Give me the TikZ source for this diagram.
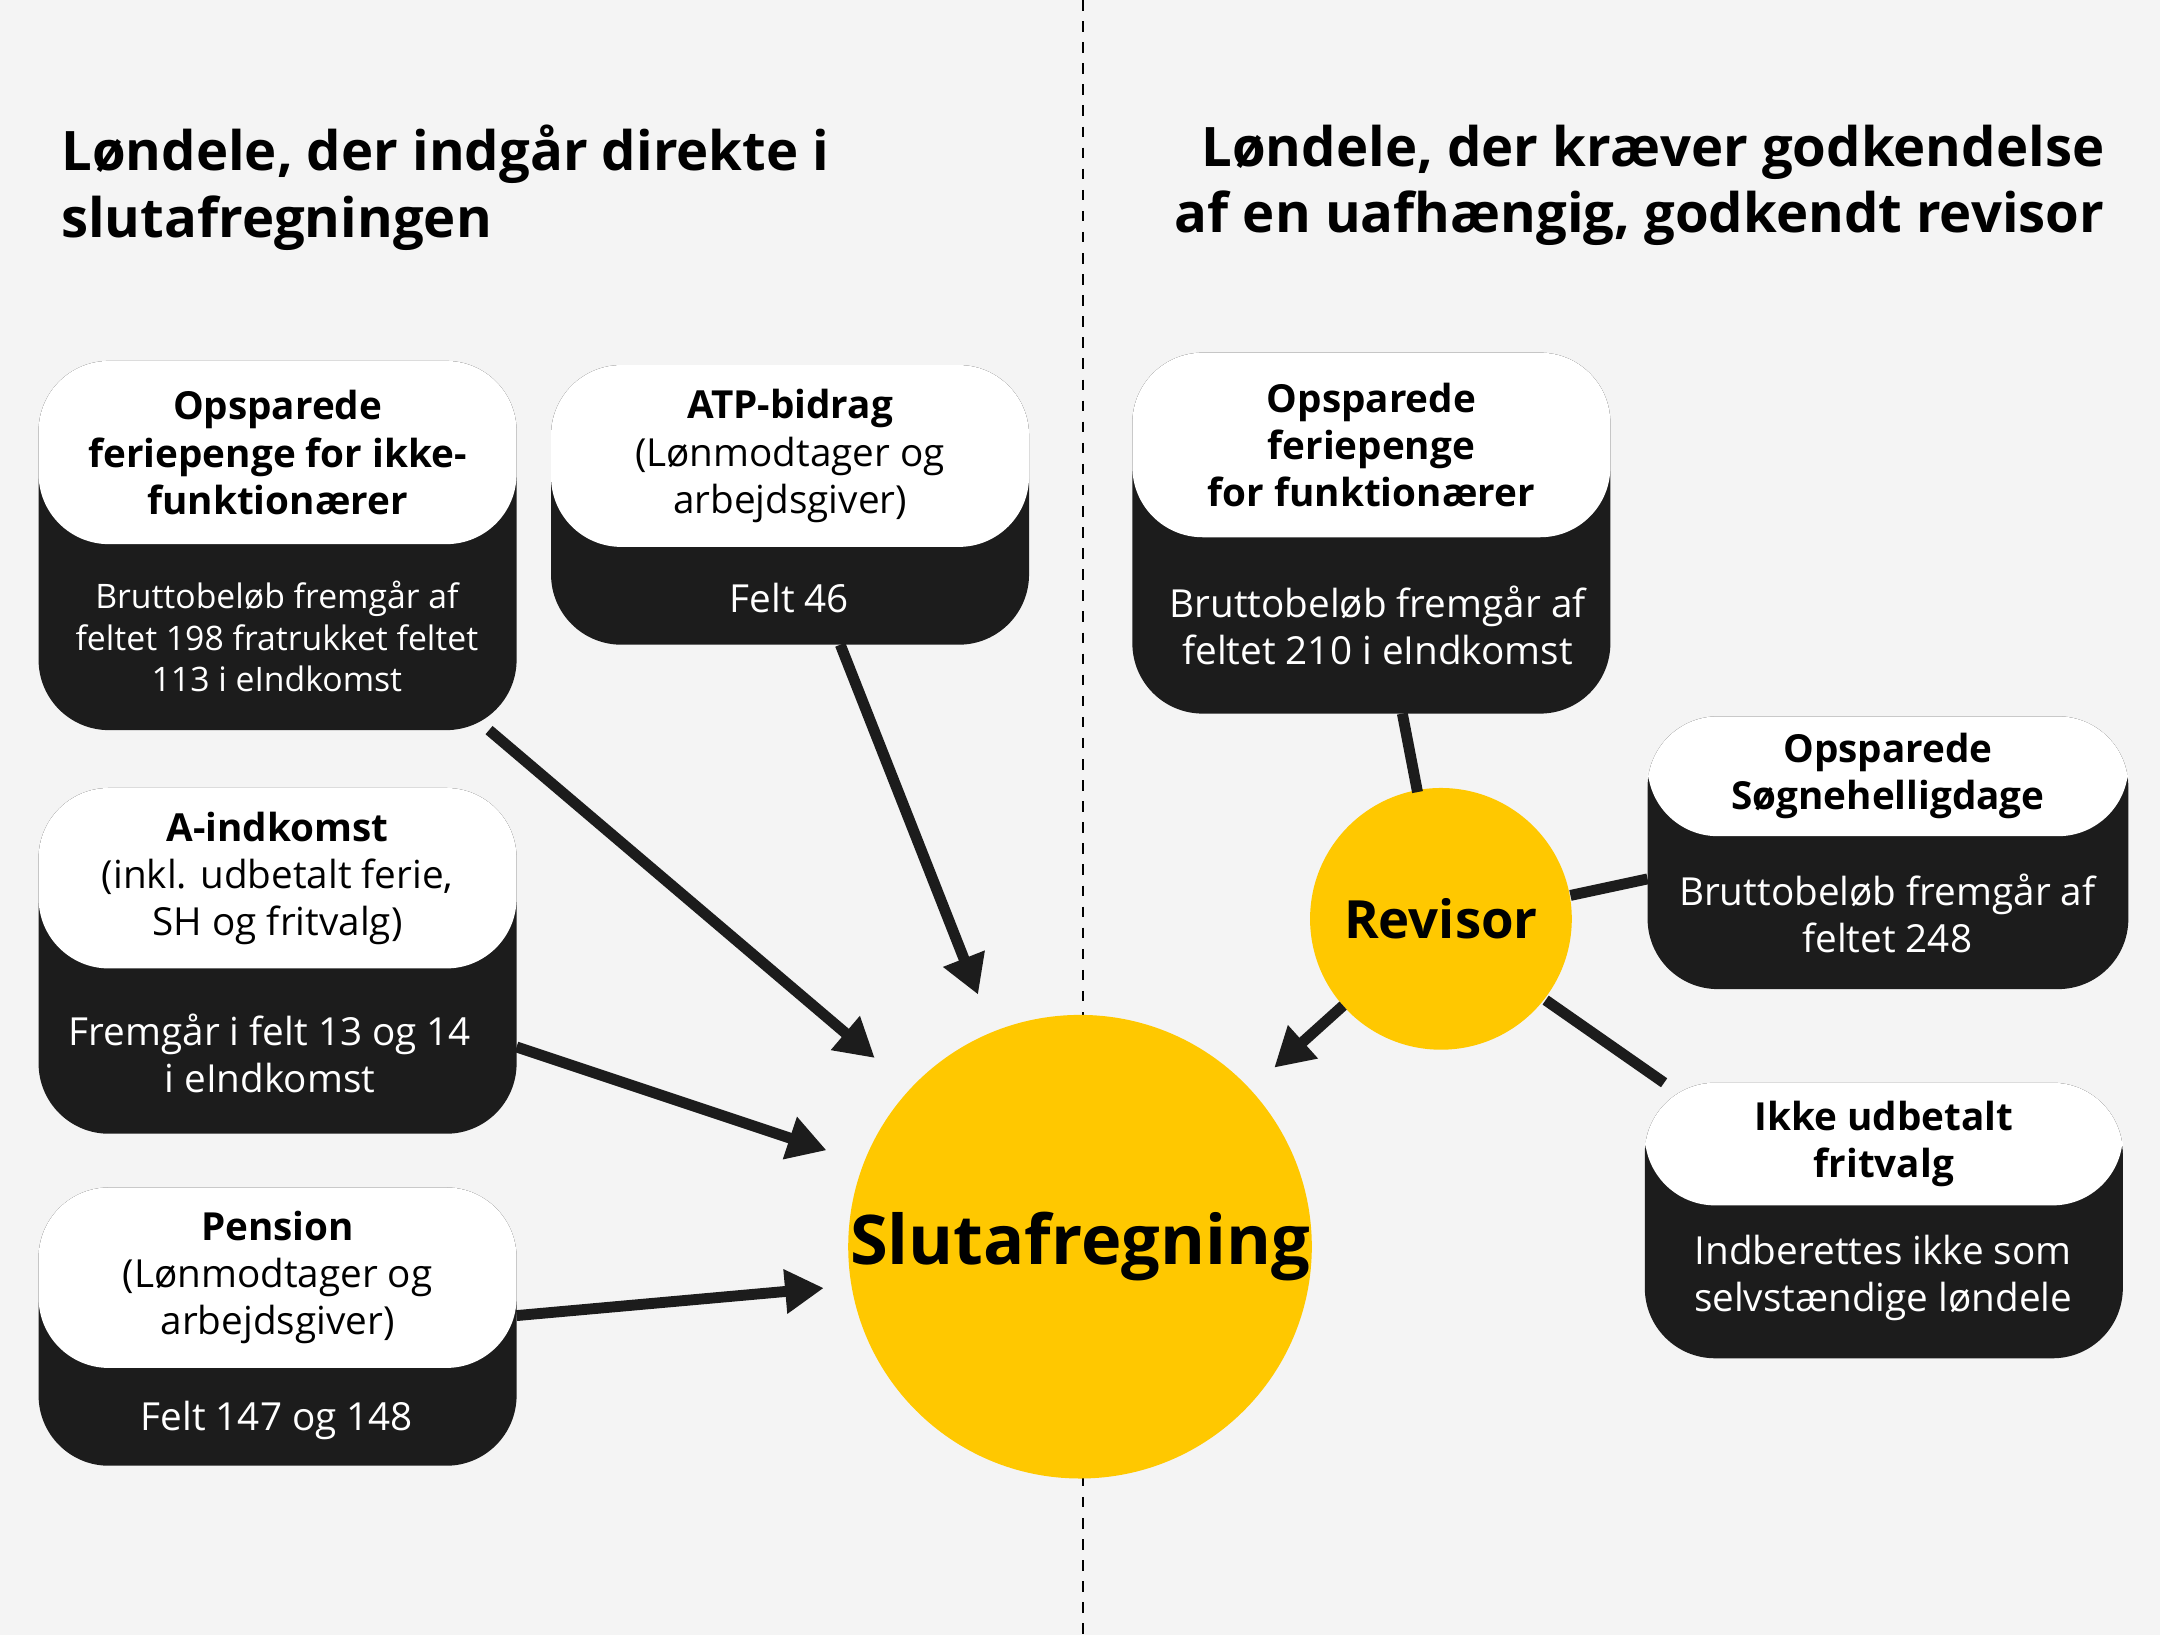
\documentclass[tikz,border=0pt]{standalone}
\usepackage{fontspec}
\setmainfont{Open Sans}
\usetikzlibrary{arrows.meta}
\definecolor{bg}{HTML}{F4F4F4}
\definecolor{yel}{HTML}{FFC800}
\definecolor{blk}{HTML}{1C1C1C}
\begin{document}
\begin{tikzpicture}[x=0.013776cm,y=-0.013776cm,
  ttl/.style={font=\fontsize{15.5}{19}\selectfont\bfseries,align=left,inner sep=0,anchor=north west},
  hd/.style={font=\fontsize{11}{13.4}\selectfont,align=center,inner sep=0,text=black},
  bd/.style={font=\fontsize{11}{13.4}\selectfont,align=center,inner sep=0,text=white},
  bds/.style={font=\fontsize{9.6}{11.8}\selectfont,align=center,inner sep=0,text=white},
  con/.style={line width=3.1pt,draw=blk},
  arr/.style={con,-{Triangle[length=11pt,width=12pt]}}]
\fill[bg] (0,0) rectangle (1568,1187);
\useasboundingbox (0,0) rectangle (1568,1187);
\draw[dashed,line width=0.7pt] (786,0) -- (786,1187);
\node[ttl] (t1) at (44,90) {Løndele, der indgår direkte i\\slutafregningen};
\node[ttl,align=right,anchor=north east] (t2) at (1528,90) {Løndele, der kræver godkendelse\\af en uafhængig, godkendt revisor};
% box macro
\newcommand{\mybox}[7]{%
 \fill[blk,rounded corners=20] (#1,#2) rectangle (#3,#5);
 \fill[white,rounded corners=20] (#1,#2) rectangle (#3,#4);
 \node[hd] (#6h) at ({(#1+#3)/2},{(#2+#4)/2}) {#7};
}
\mybox{28}{262}{375}{395}{530}{b1}{\textbf{Opsparede}\\\textbf{feriepenge for ikke-}\\\textbf{funktionærer}}
\node[bds] (b1) at (201,462) {Bruttobeløb fremgår af\\feltet 198 fratrukket feltet\\113 i eIndkomst};
\mybox{400}{265}{747}{397}{468}{b2}{\textbf{ATP-bidrag}\\(Lønmodtager og\\arbejdsgiver)};
\node[bd] (b2) at (573,434) {Felt 46};
\mybox{28}{572}{375}{703}{823}{b3}{\textbf{A-indkomst}\\(inkl. udbetalt ferie,\\SH og fritvalg)};
\node[bd] (b3) at (196,765) {Fremgår i felt 13 og 14\\i eIndkomst};
\mybox{28}{862}{375}{993}{1064}{b4}{\textbf{Pension}\\(Lønmodtager og\\arbejdsgiver)};
\node[bd] (b4) at (201,1031) {Felt 147 og 148};
\mybox{822}{256}{1169}{390}{518}{r1}{\textbf{Opsparede}\\\textbf{feriepenge}\\\textbf{for funktionærer}};
\node[bd] (r1) at (1000,454) {Bruttobeløb fremgår af\\feltet 210 i eIndkomst};
\mybox{1196}{520}{1545}{607}{718}{r2}{\textbf{Opsparede}\\\textbf{Søgnehelligdage}};
\node[bd] (r2) at (1370,663) {Bruttobeløb fremgår af\\feltet 248};
\mybox{1194}{786}{1541}{875}{986}{r3}{\textbf{Ikke udbetalt}\\\textbf{fritvalg}};
\node[bd] (r3) at (1367,928) {Indberettes ikke som\\selvstændige løndele};
\node[circle,fill=yel,minimum size=326*0.013776cm,inner sep=0,font=\fontsize{19.5}{22}\selectfont\bfseries] (s) at (784,905) {Slutafregning};
\node[circle,fill=yel,minimum size=190*0.013776cm,inner sep=0,font=\fontsize{15}{18}\selectfont\bfseries] (rv) at (1046,667) {Revisor};
\coordinate (a1s) at (355,530); \coordinate (a1e) at (635,768);
\coordinate (a2s) at (610,468); \coordinate (a2e) at (710,722);
\coordinate (a3s) at (375,760); \coordinate (a3e) at (600,835);
\coordinate (a4s) at (375,955); \coordinate (a4e) at (598,935);
\draw[arr] (a1s) -- (a1e);
\draw[arr] (a2s) -- (a2e);
\draw[arr] (a3s) -- (a3e);
\draw[arr] (a4s) -- (a4e);
\coordinate (rvs) at (975,730); \coordinate (rve) at (925,775);
\draw[arr] (rvs) -- (rve);
\coordinate (l1s) at (1018,518); \coordinate (l1e) at (1029,575);
\coordinate (l2s) at (1140,650); \coordinate (l2e) at (1196,638);
\coordinate (l3s) at (1122,726); \coordinate (l3e) at (1208,786);
\draw[con] (l1s) -- (l1e);
\draw[con] (l2s) -- (l2e);
\draw[con] (l3s) -- (l3e);
\end{tikzpicture}
\end{document}
